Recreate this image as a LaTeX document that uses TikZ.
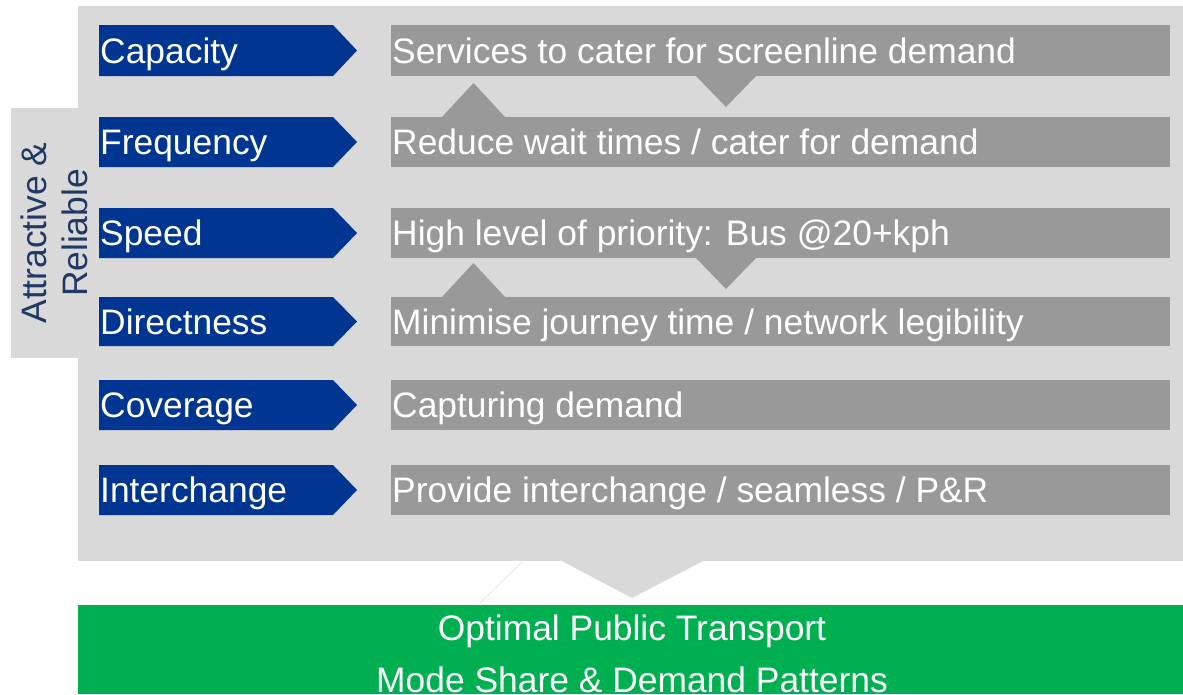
\documentclass[tikz,border=0pt]{standalone}
\usepackage{fontspec}
\setmainfont{Liberation Sans}
\definecolor{panel}{HTML}{D9D9D9}
\definecolor{bar}{HTML}{999999}
\definecolor{navy}{HTML}{003591}
\definecolor{labelblue}{HTML}{1F3864}
\definecolor{okgreen}{HTML}{00B050}
\tikzset{
  bigfont/.style={font=\fontsize{35.4}{41}\selectfont},
  lbl/.style={bigfont, text=white, inner sep=0pt, anchor=base west},
  chev/.style={fill=navy},
  barfill/.style={fill=bar},
}
\begin{document}
\begin{tikzpicture}[x=1pt,y=-1pt]
\useasboundingbox (0,0) rectangle (1183,694);
% panel
\fill[panel] (78,6) rectangle (1183,561);
\fill[panel] (11,108) rectangle (78,358);
\fill[panel] (562,561) -- (703,561) -- (632,598) -- cycle;
\draw[black!8, line width=1pt] (523,561) -- (478,605);
% side label
\node[bigfont, rotate=90, align=center, text=labelblue, inner sep=0pt] (side) at (54,233) {Attractive \&\\Reliable};
% rows
\foreach \t/\b/\n/\L/\T in {25/76/r1/Capacity/{Services to cater for screenline demand},
  117/167/r2/Frequency/{Reduce wait times / cater for demand},
  208/258/r3/Speed/{High level of priority: Bus @20+kph},
  297/346/r4/Directness/{Minimise journey time / network legibility},
  380/430/r5/Coverage/{Capturing demand},
  465/515/r6/Interchange/{Provide interchange / seamless / P\&R}}{
  \pgfmathsetmacro{\m}{(\t+\b)/2}
  \fill[chev] (99,\t) -- (333,\t) -- (357,\m) -- (333,\b) -- (99,\b) -- cycle;
  \fill[barfill] (391,\t) rectangle (1170,\b);
  \node[lbl] (\n c) at (100,\m+12.5) {\L};
  \node[lbl] (\n t) at (392,\m+12.5) {\T};
}
% triangles between rows
\fill[barfill] (442,117) -- (473.5,83) -- (505,117) -- cycle;
\fill[barfill] (696,76) -- (726,107) -- (756,76) -- cycle;
\fill[barfill] (442,297) -- (473.5,263) -- (505,297) -- cycle;
\fill[barfill] (696,258) -- (726,289) -- (756,258) -- cycle;
% result
\fill[okgreen] (78,605) rectangle (1183,694);
\node[bigfont, text=white, inner sep=0pt, anchor=base] (g1) at (632,640) {Optimal Public Transport};
\node[bigfont, text=white, inner sep=0pt, anchor=base] (g2) at (632,692) {Mode Share \& Demand Patterns};
\end{tikzpicture}
\end{document}
